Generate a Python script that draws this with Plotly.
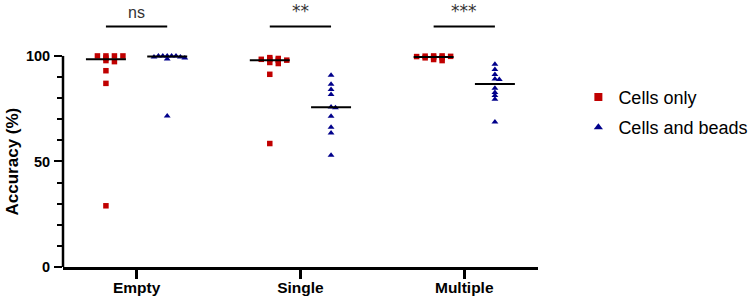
import numpy as np
import plotly.graph_objects as go

categories = ["Empty", "Single", "Multiple"]
series_names = ["Cells only", "Cells and beads"]
cells_only = [
    [100, 100, 100, 100, 99, 97.8, 97.3, 93, 87, 29],
    [99.2, 98.8, 98.4, 98.4, 98, 98, 96.9, 96.4, 91.3, 58.5],
    [100, 100, 99.9, 99.8, 99.7, 99.3, 99.2, 99.1, 98.3, 97.8],
]
cells_beads = [
    [100, 100, 100, 100, 100, 99.5, 99.5, 99, 98.5, 71.5],
    [90.9, 86.6, 84.1, 81.7, 75.8, 75.5, 71.4, 66.2, 63.5, 52.9],
    [96.1, 93.6, 91.2, 89.1, 88.8, 84.7, 82.7, 81.2, 79.5, 68.7],
]
sig_labels = ["ns", "**", "***"]
y_ticks = [0, 50, 100]
y_minor = [10, 20, 30, 40, 60, 70, 80, 90]

RED = "#C00000"
BLUE = "#00008B"
FONT = "Liberation Sans, Arial, sans-serif"

W, H = 754, 299
ML, MR, MT, MB = 63, 216, 0, 32
XR = [-0.449, 2.45]
YR = [0, 126.5]
pxx = (W - ML - MR) / (XR[1] - XR[0])
pxy = (H - MT - MB) / (YR[1] - YR[0])
GOFF = 0.187
HALF = 0.122


def swarm(vals, step_px, ygap_px):
    order = sorted(range(len(vals)), key=lambda i: -vals[i])
    placed = []
    offs = [0.0] * len(vals)
    ks = [0]
    for k in range(1, 12):
        ks += [k, -k]
    for i in order:
        yp = vals[i] * pxy
        for k in ks:
            xp = k * step_px
            if all(abs(xp - a) >= step_px * 0.9 or abs(yp - b) >= ygap_px for a, b in placed):
                break
        placed.append((xp, yp))
        offs[i] = xp / pxx
    return offs


fig = go.Figure()
specs = [
    (cells_only, -GOFF, RED, "square", 5.5, 8.5, 1.2, series_names[0], 8),
    (cells_beads, GOFF, BLUE, "triangle-up", 6, 4.4, 2.5, series_names[1], 8),
]
for data, off, col, sym, msize, step, ygap, name, lsize in specs:
    for ci, vals in enumerate(data):
        offs = swarm(vals, step, ygap)
        xs = [ci + off + o for o in offs]
        fig.add_trace(go.Scatter(x=xs, y=vals, mode="markers",
                                 marker=dict(symbol=sym, size=msize, color=col),
                                 showlegend=False, cliponaxis=False, hoverinfo="y"))
        med = float(np.median(vals))
        fig.add_trace(go.Scatter(x=[ci + off - HALF, ci + off + HALF], y=[med, med],
                                 mode="lines", line=dict(color="black", width=2),
                                 showlegend=False, hoverinfo="skip"))
    fig.add_trace(go.Scatter(x=[None], y=[None], mode="markers", name=name,
                             legendgroup=name,
                             marker=dict(symbol=sym, size=lsize, color=col)))

# significance bars
sig_y = 114
for ci, lab in enumerate(sig_labels):
    fig.add_trace(go.Scatter(x=[ci - GOFF, ci + GOFF], y=[sig_y, sig_y], mode="lines",
                             line=dict(color="black", width=2), showlegend=False,
                             hoverinfo="skip"))
    if "*" in lab:
        fig.add_annotation(x=ci, y=121.1, xref="x", yref="y", text=lab,
                           showarrow=False, yanchor="middle",
                           font=dict(family="DejaVu Sans", size=17, color="#333333"))
    else:
        fig.add_annotation(x=ci, y=sig_y + 1.8, xref="x", yref="y", text=lab,
                           showarrow=False, yanchor="bottom",
                           font=dict(family=FONT, size=16, color="#333333"))

# y axis line only from 0 to 100
fig.add_shape(type="line", xref="paper", yref="y", x0=0, x1=0, y0=0, y1=100,
              line=dict(color="black", width=2.5))

fig.add_annotation(x=-0.1074, y=50, xref="paper", yref="y", text="Accuracy (%)",
                   textangle=-90, showarrow=False, xanchor="center", yanchor="middle",
                   font=dict(family=FONT, size=17, color="black", weight="bold"))

fig.update_layout(
    width=W, height=H,
    margin=dict(l=ML, r=MR, t=MT, b=MB, pad=0),
    plot_bgcolor="white", paper_bgcolor="white",
    xaxis=dict(range=XR, tickvals=[0, 1, 2], ticktext=categories,
               showline=True, linecolor="black", linewidth=2.5,
               ticks="outside", ticklen=9, tickwidth=2.5, tickcolor="black",
               showgrid=False, zeroline=False, ticklabelstandoff=-4,
               tickfont=dict(family=FONT, size=15.5, color="black", weight="bold")),
    yaxis=dict(range=YR, tickvals=y_ticks, showline=False,
               ticks="outside", ticklen=8, tickwidth=2, tickcolor="black",
               minor=dict(tickvals=y_minor, ticks="outside", ticklen=5, tickwidth=2,
                          tickcolor="black", showgrid=False),
               showgrid=False, zeroline=False, ticklabelstandoff=1,
               tickfont=dict(family=FONT, size=14.5, color="black", weight="bold")),
    legend=dict(x=1.085, y=0.705, xanchor="left", yanchor="top",
                font=dict(family=FONT, size=18, color="black"),
                tracegroupgap=4, bgcolor="rgba(0,0,0,0)"),
    showlegend=True,
)

fig.write_html("out.html", config={"displayModeBar": False},
               post_script="document.body.style.margin='0';document.body.style.overflow='hidden';")
